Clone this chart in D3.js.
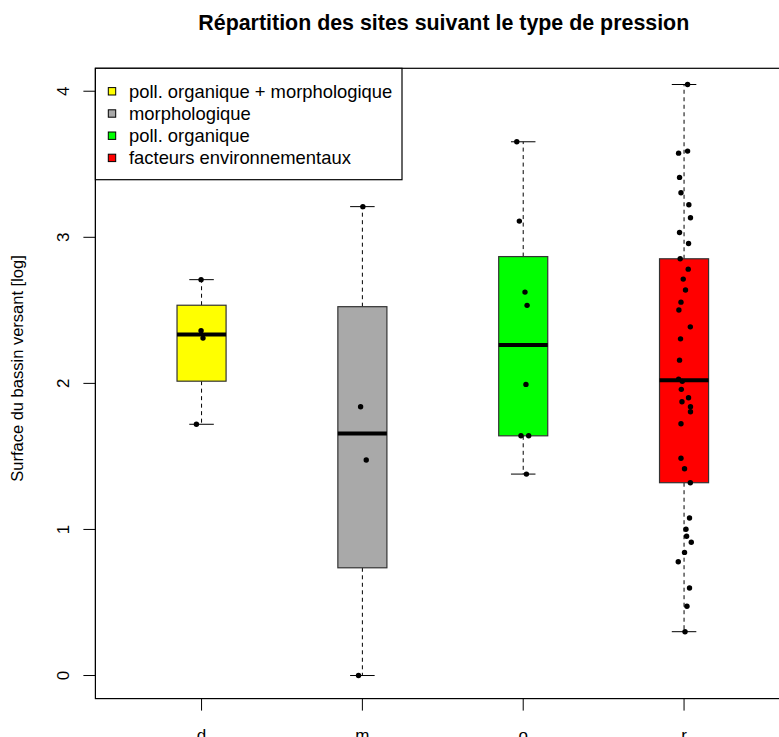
<!DOCTYPE html>
<html>
<head>
<meta charset="utf-8">
<script src="https://cdnjs.cloudflare.com/ajax/libs/d3/7.8.5/d3.min.js"></script>
<style>
body { margin: 0; background: #fff; }
svg { display: block; font-family: "Liberation Sans", Arial, sans-serif; }
</style>
</head>
<body>
<div id="chart"></div>
<script>
// groups on the x axis, legend text and fill colours
var categories = ["d", "m", "o", "r"];
var legendLabels = ["poll. organique + morphologique", "morphologique", "poll. organique", "facteurs environnementaux"];
var boxColors = ["#ffff00", "#a9a9a9", "#00ff00", "#ff0000"];
var yTicks = [0, 1, 2, 3, 4];

// surface du bassin versant (log) for every site
var valuesD = [2.71, 2.36, 2.31, 1.72];
var valuesM = [3.21, 1.84, 1.475, 0];
var valuesO = [3.654, 3.111, 2.625, 2.534, 1.993, 1.641, 1.641, 1.379];
var valuesR = [4.046, 3.590, 3.576, 3.410, 3.305, 3.223, 3.134, 3.033, 2.958, 2.853,
               2.782, 2.714, 2.639, 2.556, 2.502, 2.387, 2.305, 2.159, 2.029, 2.014,
               1.959, 1.902, 1.874, 1.840, 1.806, 1.724, 1.487, 1.416, 1.320, 1.078,
               1.001, 0.953, 0.912, 0.843, 0.779, 0.599, 0.474, 0.300];

// horizontal jitter of each point (category units)
var jitterD = [-0.003, -0.003, 0.009, -0.032];
var jitterM = [0.003, -0.011, 0.024, -0.024];
var jitterO = [-0.040, -0.024, 0.011, 0.024, 0.017, -0.014, 0.034, 0.020];
var jitterR = [0.022, 0.022, -0.034, -0.028, -0.019, 0.030, 0.040, -0.028, 0.028, -0.024,
               0.026, -0.005, 0.009, -0.019, -0.032, 0.039, -0.022, -0.028, -0.034, -0.011,
               -0.017, 0.028, -0.013, 0.040, 0.040, -0.019, -0.019, 0.003, 0.039, 0.034,
               0.012, 0.016, 0.045, 0.003, -0.036, 0.034, 0.018, 0.006];

var groupValues = [valuesD, valuesM, valuesO, valuesR];
var groupJitter = [jitterD, jitterM, jitterO, jitterR];

var W = 779, H = 737;
var plot = {left: 95.4, right: 790.2, top: 68.3, bottom: 698.6};
var boxWidth = 0.305;   // in category units
var tickFont = 17;
var legendFont = 18.4;

// Tukey five numbers (same as R fivenum)
function fivenum(arr){
  var x = arr.slice().sort(d3.ascending), n = x.length;
  var n4 = Math.floor((n + 3) / 2) / 2;
  var idx = [1, n4, (n + 1) / 2, n + 1 - n4, n];
  return idx.map(function(k){ return 0.5 * (x[Math.floor(k) - 1] + x[Math.ceil(k) - 1]); });
}

var stats = groupValues.map(function(v, i){
  var f = fivenum(v);
  var iqr = f[3] - f[1];
  var lo = d3.min(v.filter(function(a){ return a >= f[1] - 1.5 * iqr; }));
  var hi = d3.max(v.filter(function(a){ return a <= f[3] + 1.5 * iqr; }));
  return {i: i, q1: f[1], med: f[2], q3: f[3], lo: lo, hi: hi};
});

var x = d3.scaleLinear().domain([0.34, 4.66]).range([plot.left, plot.right]);
var y = d3.scaleLinear().domain([-0.158, 4.157]).range([plot.bottom, plot.top]);

var svg = d3.select("#chart").append("svg")
  .attr("width", W)
  .attr("height", H);

svg.append("rect").attr("width", W).attr("height", H).attr("fill", "#fff");

// title
svg.append("text")
  .attr("x", (plot.left + plot.right) / 2 + 1)
  .attr("y", 30)
  .attr("text-anchor", "middle")
  .style("font-weight", "bold")
  .style("font-size", "21.4px")
  .attr("fill", "#000")
  .text("Répartition des sites suivant le type de pression");

// boxes
var g = svg.append("g");
var box = g.selectAll(".box").data(stats).enter().append("g").attr("class", "box");

// whiskers
box.append("line")
  .attr("x1", function(d){ return x(d.i + 1); })
  .attr("x2", function(d){ return x(d.i + 1); })
  .attr("y1", function(d){ return y(d.q3); })
  .attr("y2", function(d){ return y(d.hi); })
  .attr("stroke", "#000").attr("stroke-width", 1).attr("stroke-dasharray", "4,3.5");
box.append("line")
  .attr("x1", function(d){ return x(d.i + 1); })
  .attr("x2", function(d){ return x(d.i + 1); })
  .attr("y1", function(d){ return y(d.q1); })
  .attr("y2", function(d){ return y(d.lo); })
  .attr("stroke", "#000").attr("stroke-width", 1).attr("stroke-dasharray", "4,3.5");

// staples
["hi", "lo"].forEach(function(k){
  box.append("line")
    .attr("x1", function(d){ return x(d.i + 1 - boxWidth / 4); })
    .attr("x2", function(d){ return x(d.i + 1 + boxWidth / 4); })
    .attr("y1", function(d){ return y(d[k]); })
    .attr("y2", function(d){ return y(d[k]); })
    .attr("stroke", "#000").attr("stroke-width", 1);
});

box.append("rect")
  .attr("x", function(d){ return x(d.i + 1 - boxWidth / 2); })
  .attr("width", function(d){ return x(d.i + 1 + boxWidth / 2) - x(d.i + 1 - boxWidth / 2); })
  .attr("y", function(d){ return y(d.q3); })
  .attr("height", function(d){ return y(d.q1) - y(d.q3); })
  .attr("fill", function(d){ return boxColors[d.i]; })
  .attr("stroke", "#333").attr("stroke-width", 1.2);

box.append("line")
  .attr("x1", function(d){ return x(d.i + 1 - boxWidth / 2); })
  .attr("x2", function(d){ return x(d.i + 1 + boxWidth / 2); })
  .attr("y1", function(d){ return y(d.med); })
  .attr("y2", function(d){ return y(d.med); })
  .attr("stroke", "#000").attr("stroke-width", 4);

// points (stripchart, jittered)
var points = [];
groupValues.forEach(function(v, i){
  v.forEach(function(val, j){ points.push({i: i, value: val, jit: groupJitter[i][j]}); });
});
g.selectAll(".pt").data(points).enter().append("circle")
  .attr("class", "pt")
  .attr("cx", function(d){ return x(d.i + 1 + d.jit); })
  .attr("cy", function(d){ return y(d.value); })
  .attr("r", 2.7)
  .attr("fill", "#000");

// plot frame
svg.append("rect")
  .attr("x", plot.left).attr("y", plot.top)
  .attr("width", plot.right - plot.left).attr("height", plot.bottom - plot.top)
  .attr("fill", "none").attr("stroke", "#000").attr("stroke-width", 1.2);

// y axis
var yAxis = svg.append("g");
yAxis.append("line")
  .attr("x1", plot.left).attr("x2", plot.left)
  .attr("y1", y(yTicks[0])).attr("y2", y(yTicks[yTicks.length - 1]))
  .attr("stroke", "#000");
yAxis.selectAll(".tick").data(yTicks).enter().append("line")
  .attr("x1", plot.left - 12).attr("x2", plot.left)
  .attr("y1", function(d){ return y(d); }).attr("y2", function(d){ return y(d); })
  .attr("stroke", "#000");
yAxis.selectAll(".lab").data(yTicks).enter().append("text")
  .attr("transform", function(d){ return "translate(69," + y(d) + ") rotate(-90)"; })
  .attr("text-anchor", "middle")
  .style("font-size", tickFont + "px")
  .text(function(d){ return d; });

svg.append("text")
  .attr("transform", "translate(22.5,368.5) rotate(-90)")
  .attr("text-anchor", "middle")
  .style("font-size", "16.5px")
  .text("Surface du bassin versant [log]");

// x axis
var xAxis = svg.append("g");
xAxis.selectAll(".tick").data(categories).enter().append("line")
  .attr("x1", function(d, i){ return x(i + 1); }).attr("x2", function(d, i){ return x(i + 1); })
  .attr("y1", plot.bottom).attr("y2", plot.bottom + 12)
  .attr("stroke", "#000");
xAxis.selectAll(".lab").data(categories).enter().append("text")
  .attr("x", function(d, i){ return x(i + 1); })
  .attr("y", 740.5)
  .attr("text-anchor", "middle")
  .style("font-size", tickFont + "px")
  .text(function(d){ return d; });

// legend (top left)
var legend = svg.append("g");
legend.append("rect")
  .attr("x", plot.left).attr("y", plot.top)
  .attr("width", 306.6).attr("height", 111.4)
  .attr("fill", "#fff").attr("stroke", "#000").attr("stroke-width", 1.2);
var item = legend.selectAll(".item").data(legendLabels).enter().append("g")
  .attr("transform", function(d, i){ return "translate(0," + (91.3 + i * 22.2) + ")"; });
item.append("rect")
  .attr("x", 108.3).attr("y", -3.7).attr("width", 7.4).attr("height", 7.4)
  .attr("fill", function(d, i){ return boxColors[i]; })
  .attr("stroke", "#000").attr("stroke-width", 1);
item.append("text")
  .attr("x", 129).attr("y", 6.2)
  .style("font-size", legendFont + "px")
  .text(function(d){ return d; });
</script>
</body>
</html>
